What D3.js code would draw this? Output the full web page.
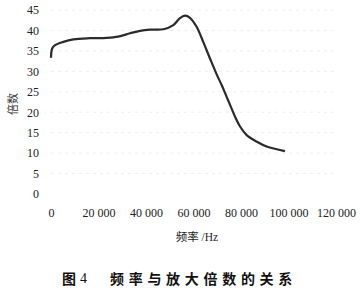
<!DOCTYPE html>
<html>
<head>
<meta charset="utf-8">
<script src="https://cdn.jsdelivr.net/npm/d3@7"></script>
<style>
body { margin: 0; background: #fff; }
svg { display: block; }
</style>
</head>
<body>
<svg width="360" height="293"></svg>
<script>
// frequency (Hz) and gain
var freq = [0, 500, 1700, 5200, 9400, 16400, 23500, 28300, 33300, 37500, 41700, 47300, 51500,
  54300, 56400, 58500, 61300, 64100, 66900, 69800, 71900, 74000, 75400, 77500, 79600, 82400,
  86600, 90800, 98500];
var gain = [33.3, 35.6, 36.4, 37.2, 37.8, 38.1, 38.2, 38.5, 39.3, 39.9, 40.2, 40.3, 41.3,
  43.0, 43.6, 43.1, 40.9, 37.2, 33.2, 29.2, 26.6, 23.7, 21.8, 18.9, 16.5, 14.4,
  12.8, 11.6, 10.5];
var xTicks = [0, 20000, 40000, 60000, 80000, 100000, 120000];
var yTicks = [0, 5, 10, 15, 20, 25, 30, 35, 40, 45];
var xTitle = '频率 /Hz';
var yTitle = '倍数';
var caption = ['图', '4', '频率与放大倍数的关系'];

var data = freq.map(function(f, i) { return {f: f, v: gain[i]}; });
var serif = '"Liberation Serif", serif';
var serifCjk = '"Liberation Serif", "Noto Sans CJK SC", serif';

var svg = d3.select('svg');
var x = d3.scaleLinear().domain([0, 120000]).range([51, 336]);
var y = d3.scaleLinear().domain([0, 45]).range([194, 10]);

// very faint dashed grid
svg.append('g')
  .selectAll('line')
  .data(yTicks.slice(1))
  .enter()
  .append('line')
  .attr('x1', x(0)).attr('x2', x(120000))
  .attr('y1', function(d) { return y(d); })
  .attr('y2', function(d) { return y(d); })
  .style('stroke', '#eeeeee')
  .style('stroke-dasharray', '3,4');

var gy = svg.append('g')
  .attr('transform', 'translate(39,0)')
  .call(d3.axisLeft(y).tickValues(yTicks).tickSize(0).tickPadding(0));
gy.select('.domain').remove();

var gx = svg.append('g')
  .attr('transform', 'translate(0,208)')
  .call(d3.axisBottom(x).tickValues(xTicks).tickSize(0).tickPadding(0)
    .tickFormat(function(d) { return d3.format(',')(d).replace(',', ' '); }));
gx.select('.domain').remove();

svg.selectAll('.tick text')
  .attr('font-family', serif)
  .attr('font-size', 12)
  .attr('fill', '#222');

svg.append('path')
  .datum(data)
  .attr('d', d3.line()
    .curve(d3.curveCatmullRom.alpha(0.5))
    .x(function(d) { return x(d.f); })
    .y(function(d) { return y(d.v); }))
  .style('fill', 'none')
  .style('stroke', '#2b2b2b')
  .style('stroke-width', 2.2)
  .style('stroke-linejoin', 'round');

svg.append('text')
  .attr('transform', 'translate(14,104) rotate(-90)')
  .attr('text-anchor', 'middle')
  .attr('dominant-baseline', 'middle')
  .attr('font-family', '"Noto Sans CJK SC", sans-serif')
  .attr('font-size', 11)
  .attr('fill', '#333')
  .text(yTitle);

svg.append('text')
  .attr('x', 197)
  .attr('y', 238)
  .attr('text-anchor', 'middle')
  .attr('dominant-baseline', 'middle')
  .attr('font-family', serifCjk)
  .attr('font-size', 11.5)
  .attr('fill', '#222')
  .text(xTitle);

var cap = svg.append('text')
  .attr('y', 280)
  .attr('dominant-baseline', 'middle')
  .attr('font-family', '"Noto Sans CJK SC", sans-serif')
  .attr('font-size', 14)
  .attr('font-weight', 'bold')
  .attr('fill', '#111');
cap.append('tspan').attr('x', 62).text(caption[0]);
cap.append('tspan').attr('x', 80).attr('font-family', serif).attr('font-weight', 'normal').text(caption[1]);
cap.append('tspan').attr('x', 110).attr('letter-spacing', 4.7).text(caption[2]);
</script>
</body>
</html>
